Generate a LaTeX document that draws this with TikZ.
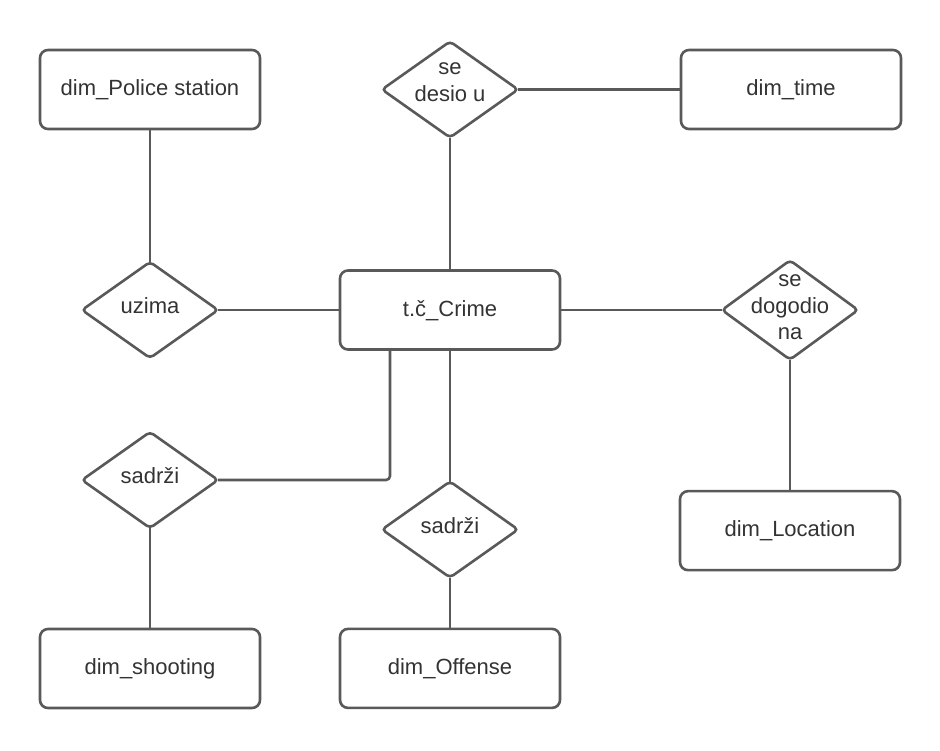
\documentclass[tikz,border=0pt]{standalone}
\usepackage{fontspec}
\setmainfont{Liberation Sans}
\usepackage{xcolor}
\usetikzlibrary{positioning,shapes.geometric}
\definecolor{linegray}{HTML}{595959}
\definecolor{textgray}{HTML}{333333}
\newcommand{\reltext}[2][0pt]{\smash{\raisebox{#1}{\begin{tabular}{@{}c@{}}#2\end{tabular}}}}

\begin{document}
\begin{tikzpicture} [
            ent/.style={rectangle, draw=linegray, rounded corners=4pt, line width=1.3pt, outer sep=0pt, minimum width=110pt, minimum height=39.5pt, text=textgray, font=\fontsize{11}{13.2}\selectfont, text height=8pt, text depth=2pt},
            rel/.style={diamond, draw=linegray, rounded corners=2pt, line width=1.3pt, outer sep=0pt, minimum width=68pt, minimum height=48pt, inner sep=0pt, text=textgray, font=\fontsize{11}{13.2}\selectfont, text height=7pt, text depth=3.5pt},
            conn/.style={draw=linegray, line width=1.3pt},]
        \useasboundingbox (0,0) rectangle (470pt,-375pt);
        \node[ent](crime) at (225pt,-155pt){t.č\_Crime};
        \node[rel](desio)[above=66.5pt of crime]{\reltext[2.5pt]{se\\desio u}};
        \node[ent](time)[right=81.5pt of desio]{dim\_time};
        \node[rel](uzima)[left=61pt of crime]{uzima};
        \node[ent](police)[above=66.5pt of uzima]{dim\_Police station};
        \node[rel](dogodio)[right=81pt of crime]{\reltext{se\\dogodio\\na}};
        \node[ent](location)[below=65.75pt of dogodio]{dim\_Location};
        \node[rel](sadrzi1)[below=37pt of uzima]{sadrži};
        \node[ent](shooting)[below=50.5pt of sadrzi1]{dim\_shooting};
        \node[rel](sadrzi2)[below=66pt of crime]{sadrži};
        \node[ent](offense)[below=25.7pt of sadrzi2]{dim\_Offense};
        \draw[conn] (police) -- (uzima);
        \draw[conn] (uzima) -- (crime);
        \draw[conn] (desio) -- (crime);
        \draw[conn] (desio) -- (time);
        \draw[conn] (crime) -- (dogodio);
        \draw[conn] (dogodio) -- (location);
        \draw[conn, rounded corners=2pt] (sadrzi1.east) -| ([xshift=25pt]crime.south west);
        \draw[conn] (crime) -- (sadrzi2);
        \draw[conn] (sadrzi1) -- (shooting);
        \draw[conn] (sadrzi2) -- (offense);
    \end{tikzpicture}
\end{document}
